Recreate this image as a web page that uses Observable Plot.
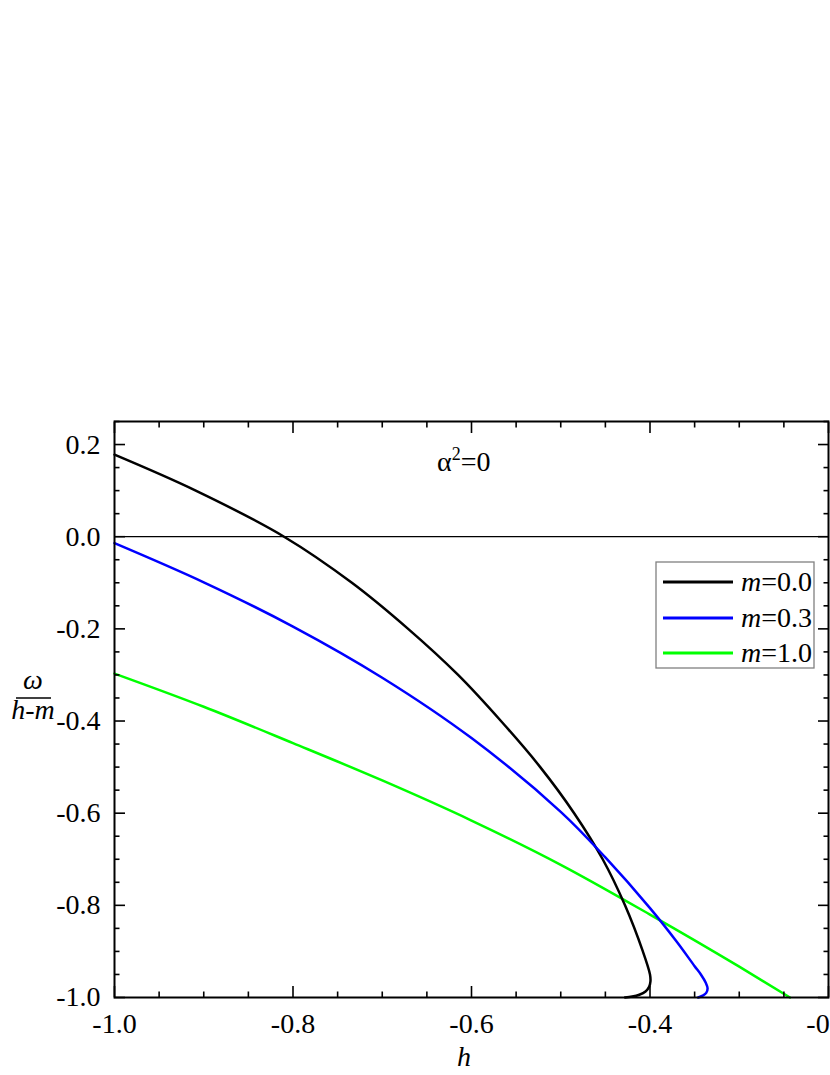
<!DOCTYPE html>
<html>
<head>
<meta charset="utf-8">
<style>
  html, body { margin: 0; padding: 0; background: #fff; overflow: hidden; }
  #chart { position: relative; width: 830px; height: 1075px; }
</style>
</head>
<body>
<div id="chart"></div>
<script src="https://cdn.jsdelivr.net/npm/d3@7"></script>
<script src="https://cdn.jsdelivr.net/npm/@observablehq/plot@0.6"></script>
<script>
// ---- data ----
const hM00 = [-1.0, -0.909, -0.810, -0.734, -0.671, -0.615, -0.567, -0.523, -0.485, -0.453, -0.428, -0.408, -0.400, -0.3995, -0.401, -0.405, -0.412, -0.420, -0.428];
const yM00 = [0.178, 0.100, 0.0, -0.100, -0.200, -0.300, -0.400, -0.500, -0.600, -0.700, -0.800, -0.900, -0.950, -0.965, -0.977, -0.987, -0.994, -0.998, -1.0];

const hM03 = [-1.0, -0.9, -0.8, -0.7, -0.6, -0.5, -0.45, -0.4, -0.37, -0.35, -0.343, -0.3375, -0.3355, -0.337, -0.341, -0.346];
const yM03 = [-0.014, -0.099, -0.195, -0.306, -0.437, -0.597, -0.696, -0.806, -0.879, -0.932, -0.950, -0.968, -0.980, -0.990, -0.996, -1.0];

const hM10 = [-1.0, -0.9, -0.8, -0.7, -0.6, -0.5, -0.4, -0.3, -0.2432];
const yM10 = [-0.297, -0.369, -0.448, -0.529, -0.616, -0.712, -0.820, -0.933, -1.0];

const seriesNames = ["0.0", "0.3", "1.0"];
const seriesColors = ["#000000", "#0000ff", "#00ff00"];

const xMajor = [-1.0, -0.8, -0.6, -0.4, -0.2];
const xMinor = [-0.95, -0.9, -0.85, -0.75, -0.7, -0.65, -0.55, -0.5, -0.45, -0.35, -0.3, -0.25];
const yMajor = [-1.0, -0.8, -0.6, -0.4, -0.2, 0.0, 0.2];
const yMinor = [-0.95, -0.9, -0.85, -0.75, -0.7, -0.65, -0.55, -0.5, -0.45, -0.35, -0.3, -0.25, -0.15, -0.1, -0.05, 0.05, 0.1, 0.15, 0.25];

const annotation = "α";
const xLabel = "h";

// ---- build tables ----
function toRows(hs, ys, m) { return hs.map((h, i) => ({h, v: ys[i], m})); }
const rowsParam = [
  ...toRows(hM00, yM00, seriesNames[0]),
  ...toRows(hM03, yM03, seriesNames[1])
];
const rowsGreen = toRows(hM10, yM10, seriesNames[2]);

const font = "'Liberation Serif', serif";
const fmt = d => d.toFixed(1);
const tickOpts = {fill: "none", label: null, strokeWidth: 1.6};

const plot = Plot.plot({
  width: 830, height: 1075,
  marginLeft: 114, marginRight: 2, marginTop: 421, marginBottom: 78,
  style: {fontFamily: font, fontSize: "28px", color: "#000", background: "#fff"},
  x: {domain: [-1.0, -0.2]},
  y: {domain: [-1.0, 0.25]},
  color: {domain: seriesNames, range: seriesColors},
  marks: [
    Plot.ruleY([0], {stroke: "#000", strokeWidth: 1.3}),
    Plot.line(rowsGreen, {x: "h", y: "v", stroke: "m", strokeWidth: 2.5, curve: "monotone-x"}),
    Plot.line(rowsParam, {x: "h", y: "v", z: "m", stroke: "m", strokeWidth: 2.5, curve: "catmull-rom"}),
    // bottom axis
    Plot.axisX(xMajor, {...tickOpts, anchor: "bottom", tickSize: -11}),
    Plot.axisX(xMinor, {...tickOpts, anchor: "bottom", tickSize: -5.5}),
    Plot.axisX(xMajor, {anchor: "bottom", tickSize: 0, tickPadding: 16, tickFormat: fmt, label: null, fontSize: 28}),
    // top axis
    Plot.axisX(xMajor, {...tickOpts, anchor: "top", tickSize: -11}),
    Plot.axisX(xMinor, {...tickOpts, anchor: "top", tickSize: -5.5}),
    // left axis
    Plot.axisY(yMajor, {...tickOpts, anchor: "left", tickSize: -11}),
    Plot.axisY(yMinor, {...tickOpts, anchor: "left", tickSize: -5.5}),
    Plot.axisY(yMajor, {anchor: "left", tickSize: 0, tickPadding: 14, tickFormat: fmt, label: null, fontSize: 28}),
    // right axis
    Plot.axisY(yMajor, {...tickOpts, anchor: "right", tickSize: -11}),
    Plot.axisY(yMinor, {...tickOpts, anchor: "right", tickSize: -5.5}),
    Plot.frame({stroke: "#000", strokeWidth: 2})
  ]
});

document.getElementById("chart").appendChild(plot);

// ---- overlay texts (annotation, axis labels, legend) ----
const svg = d3.select(plot);
const g = svg.append("g")
  .attr("font-family", font).attr("font-size", 28).attr("fill", "#000")
  .attr("text-anchor", "start");

const ann = g.append("text").attr("x", 437).attr("y", 471);
ann.append("tspan").text(annotation);
ann.append("tspan").attr("dy", -11).attr("font-size", 18).text("2");
ann.append("tspan").attr("dy", 11).text("=0");

g.append("text").attr("x", 464).attr("y", 1066).attr("text-anchor", "middle")
  .attr("font-style", "italic").text(xLabel);

g.append("text").attr("x", 33).attr("y", 689).attr("text-anchor", "middle")
  .attr("font-style", "italic").text("ω");
g.append("line").attr("x1", 16).attr("x2", 51).attr("y1", 698).attr("y2", 698)
  .attr("stroke", "#000").attr("stroke-width", 1.3);
g.append("text").attr("x", 33).attr("y", 719).attr("text-anchor", "middle")
  .attr("font-style", "italic").text("h-m");

// legend
const lg = g.append("g");
lg.append("rect").attr("x", 656).attr("y", 562).attr("width", 158).attr("height", 106)
  .attr("fill", "#fff").attr("stroke", "#808080").attr("stroke-width", 1.3);
const legY = [582, 618, 653];
seriesNames.forEach((name, i) => {
  lg.append("line").attr("x1", 663).attr("x2", 733).attr("y1", legY[i]).attr("y2", legY[i])
    .attr("stroke", seriesColors[i]).attr("stroke-width", 3);
  const t = lg.append("text").attr("x", 741).attr("y", legY[i] + 9);
  t.append("tspan").attr("font-style", "italic").text("m");
  t.append("tspan").text("=" + name);
});
</script>
</body>
</html>
